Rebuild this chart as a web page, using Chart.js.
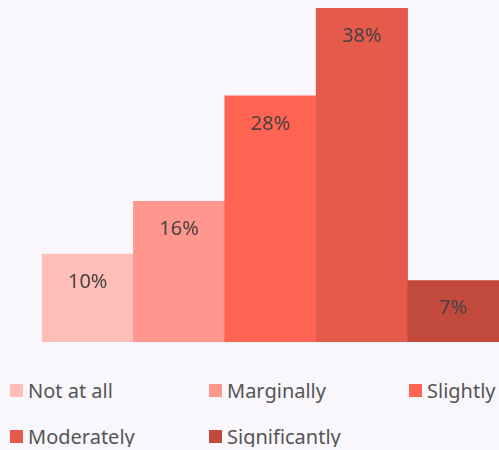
<!DOCTYPE html>
<html>
<head>
<meta charset="utf-8">
<script src="https://cdn.jsdelivr.net/npm/chart.js@4/dist/chart.umd.min.js"></script>
<style>
  html, body { margin: 0; padding: 0; background: #f9f6fc; }
  #wrap { position: relative; width: 499px; height: 350px; }
  #legend {
    display: grid;
    grid-template-columns: 199px 200px 100px;
    row-gap: 24px;
    margin-top: 29px;
    padding-left: 10px;
    font-family: "Noto Sans", sans-serif;
    font-size: 20px;
    color: #555;
  }
  #legend .item { display: flex; align-items: center; height: 22px; white-space: nowrap; }
  #legend .box { width: 13px; height: 13px; margin-right: 5px; flex: none; }
</style>
</head>
<body>
<div id="wrap"><canvas id="bars"></canvas></div>
<div id="legend"></div>
<script>
// answer categories and share of respondents (%)
const categories = ['Not at all', 'Marginally', 'Slightly', 'Moderately', 'Significantly'];
const shares = [10, 16, 28, 38, 7];
const barColors = ['#ffbfb9', '#ff978e', '#ff6452', '#e55a4b', '#c14a3d'];

// write the percentage inside the top of each bar
const barLabels = {
  id: 'barLabels',
  afterDatasetsDraw(chart) {
    const c = chart.ctx;
    const meta = chart.getDatasetMeta(0);
    c.save();
    c.font = '20px "Noto Sans", sans-serif';
    c.fillStyle = '#4a4242';
    c.textAlign = 'center';
    c.textBaseline = 'middle';
    meta.data.forEach((bar, i) => {
      c.fillText(shares[i] + '%', bar.x, bar.y + 28);
    });
    c.restore();
  }
};

const ctx = document.getElementById('bars').getContext('2d');
const chart = new Chart(ctx, {
  type: 'bar',
  data: {
    labels: categories,
    datasets: [{
      data: shares,
      backgroundColor: barColors,
      borderWidth: 0,
      categoryPercentage: 1,
      barPercentage: 1
    }]
  },
  options: {
    responsive: true,
    maintainAspectRatio: false,
    animation: false,
    layout: { padding: { left: 42, top: 8, right: 0, bottom: 8 } },
    plugins: {
      legend: { display: false },
      tooltip: { enabled: false }
    },
    scales: {
      x: { display: false },
      y: { display: false, min: 0, max: 38 }
    }
  },
  plugins: [barLabels]
});

// legend laid out in three columns
const legend = document.getElementById('legend');
categories.forEach((name, i) => {
  const item = document.createElement('div');
  item.className = 'item';
  const box = document.createElement('span');
  box.className = 'box';
  box.style.background = barColors[i];
  item.appendChild(box);
  item.appendChild(document.createTextNode(name));
  legend.appendChild(item);
});
</script>
</body>
</html>
